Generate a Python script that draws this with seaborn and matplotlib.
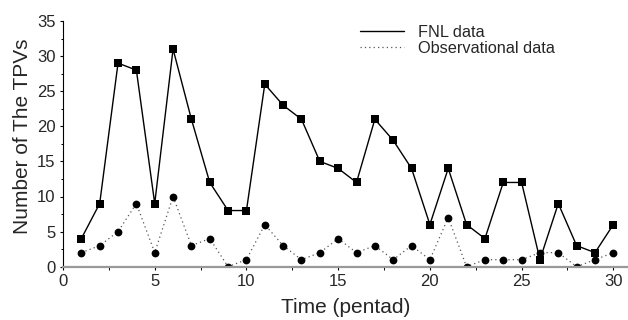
import numpy as np
import pandas as pd
import matplotlib
matplotlib.use("Agg")
import matplotlib.pyplot as plt
from matplotlib.lines import Line2D
import seaborn as sns

# -------------------------------------------------------
# data
# -------------------------------------------------------
pentads = list(range(1, 31))
fnl_counts = [4, 9, 29, 28, 9, 31, 21, 12, 8, 8,
              26, 23, 21, 15, 14, 12, 21, 18, 14, 6,
              14, 6, 4, 12, 12, 1, 9, 3, 2, 6]
obs_counts = [2, 3, 5, 9, 2, 10, 3, 4, 0, 1,
              6, 3, 1, 2, 4, 2, 3, 1, 3, 1,
              7, 0, 1, 1, 1, 2, 2, 0, 1, 2]

df = pd.DataFrame({"pentad": pentads, "FNL data": fnl_counts,
                   "Observational data": obs_counts})

sns.set_theme(style="ticks")
plt.rcParams["font.family"] = ["Liberation Sans", "DejaVu Sans"]

W, H = 628, 320
fig = plt.figure(figsize=(W / 100, H / 100), dpi=100)
ax = fig.add_axes([63 / W, 1 - 266.7 / H, 1 - 63 / W, (266.7 - 21) / H])

obs_dots = (0, (1, 2.5))

sns.lineplot(data=df, x="pentad", y="FNL data", ax=ax, color="black",
             linewidth=1.0, marker="s", markersize=5.2, markeredgewidth=0,
             legend=False)
sns.lineplot(data=df, x="pentad", y="Observational data", ax=ax, color="#555555",
             linewidth=0.9, linestyle=obs_dots, marker="o", markersize=5.6,
             markerfacecolor="black", markeredgewidth=0, legend=False)

ax.set_xlim(0, 30.8)
ax.set_ylim(0, 35)
ax.set_xticks([0, 5, 10, 15, 20, 25, 30])
ax.set_yticks([0, 5, 10, 15, 20, 25, 30, 35])
ax.set_xticks(np.arange(2.5, 30, 5), minor=True)
ax.set_yticks(np.arange(2.5, 35, 5), minor=True)
ax.tick_params(axis="both", which="major", direction="out", length=2.5,
               width=0.8, labelsize=12, pad=3, color="black")
ax.tick_params(axis="both", which="minor", direction="out", length=1.8,
               width=0.7, color="black")

sns.despine(ax=ax)
ax.spines["left"].set_color("black")
ax.spines["left"].set_linewidth(0.8)
ax.spines["bottom"].set_color("#999999")
ax.spines["bottom"].set_linewidth(1.6)

ax.set_xlabel("Time (pentad)", fontsize=15, labelpad=6)
ax.set_ylabel("Number of The TPVs", fontsize=15)
ax.yaxis.set_label_coords(-31 / 565, 0.53)

handles = [Line2D([], [], color="black", linewidth=1.0),
           Line2D([], [], color="#555555", linewidth=0.9, linestyle=obs_dots)]
labels = ["FNL data", "Observational data"]
fig.legend(handles, labels, loc="upper left", bbox_to_anchor=(360 / W, 1 - 25 / H),
           frameon=False, fontsize=11.7, handlelength=2.7, handletextpad=0.85,
           labelspacing=0.05, borderpad=0, borderaxespad=0)

fig.savefig("out.png", dpi=100)
